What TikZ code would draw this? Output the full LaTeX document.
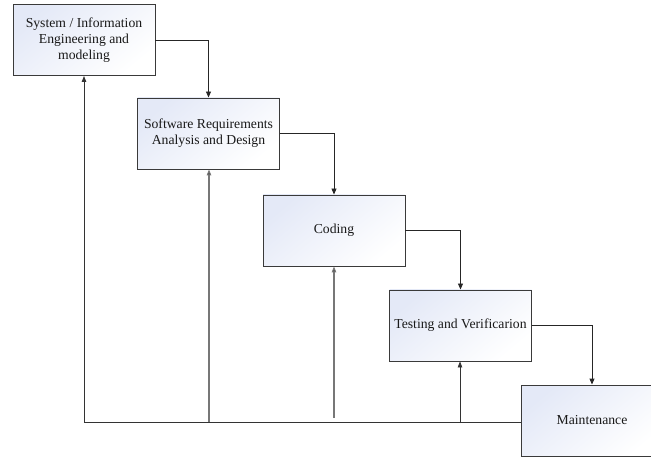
\documentclass[tikz,border=0pt]{standalone}
\usepackage{fontspec}
\setmainfont{Liberation Serif}
\usetikzlibrary{arrows.meta}
\definecolor{boxline}{HTML}{3A3A3A}
\definecolor{boxtint}{HTML}{E4E9F7}
\definecolor{feedgray}{HTML}{777777}
\begin{document}
\begin{tikzpicture}[x=1pt,y=-1pt,
  phase/.style={draw=boxline, line width=0.9pt,
    top color=boxtint, bottom color=white, shading angle=40,
    minimum width=142pt, minimum height=71pt, inner sep=2pt,
    align=center, font=\fontsize{13.7}{16}\selectfont, text=black!90},
  flow/.style={draw=black!85, line width=0.9pt, -{Triangle[length=6pt,width=5pt]}},
  feed/.style={draw=black!80, line width=0.9pt, -{Triangle[length=6pt,width=4.5pt]}},
  feedlight/.style={draw=feedgray, line width=1.1pt, -{Triangle[length=6pt,width=4.5pt,fill=black!80]}}]
\useasboundingbox (0,0) rectangle (651,457);
\clip (0,0) rectangle (651,457);

\node[phase] (sys)  at (84,40)    {System / Information\\Engineering and\\modeling};
\node[phase] (req)  at (208.5,133.5) {Software Requirements\\Analysis and Design};
\node[phase] (code) at (334,230.5) {Coding};
\node[phase] (test) at (460.5,325.5) {Testing and Verificarion};
\node[phase] (main) at (592,420.5) {Maintenance};

% forward flow down the cascade
\draw[flow] (sys.east)  -| (req.north);
\draw[flow] (req.east)  -| (code.north);
\draw[flow] (code.east) -| (test.north);
\draw[flow] (test.east) -| (main.north);

% feedback paths from maintenance
\coordinate (fb1) at (84,422);
\coordinate (fb2) at (209,422);
\coordinate (fb3) at (334,418);
\coordinate (fb4) at (460,423);
\draw[draw=black!80, line width=0.9pt] (main.west |- fb1) -- (fb1);
\draw[feed] (fb1) -- (sys.south);
\draw[feedlight] (fb2) -- (req.south -| fb2);
\draw[feedlight] (fb3) -- (code.south);
\draw[feed, line width=0.7pt] (fb4) -- (test.south -| fb4);
\end{tikzpicture}
\end{document}
